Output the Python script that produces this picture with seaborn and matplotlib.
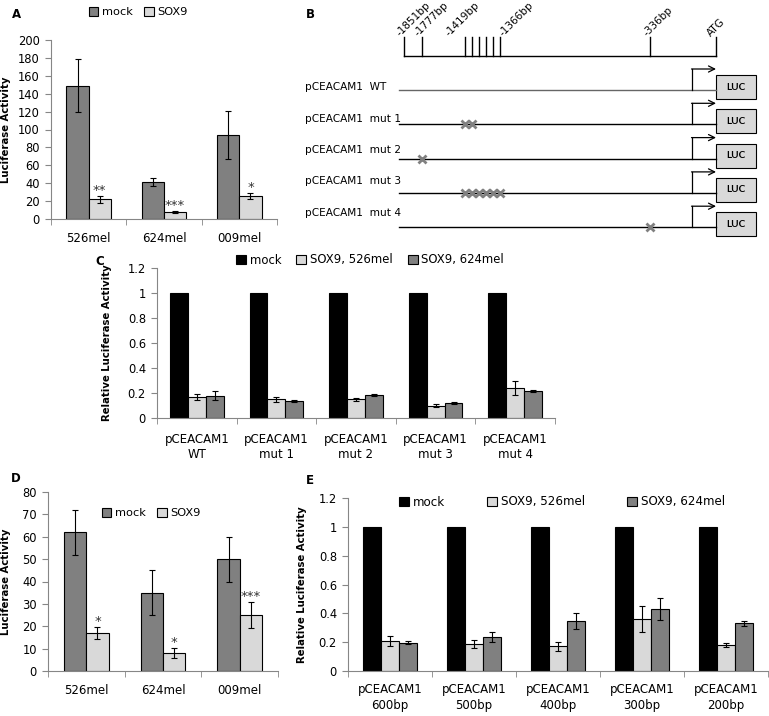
import numpy as np
import pandas as pd
import matplotlib
matplotlib.use('Agg')
import matplotlib.pyplot as plt
from matplotlib.patches import Rectangle
from matplotlib.ticker import FuncFormatter
import seaborn as sns

# ---------------- data ----------------
# A: luciferase activity, 3 melanoma lines
a_cells = ['526mel', '624mel', '009mel']
a_mock = [149, 41, 94]
a_mock_err = [30, 4.5, 27]
a_sox9 = [22, 8, 25.5]
a_sox9_err = [4, 1, 3.5]
a_stars = ['**', '***', '*']

# C: relative activity of mutant promoters
c_constructs = ['pCEACAM1\nWT', 'pCEACAM1\nmut 1', 'pCEACAM1\nmut 2',
                'pCEACAM1\nmut 3', 'pCEACAM1\nmut 4']
c_mock = [1, 1, 1, 1, 1]
c_526 = [0.17, 0.15, 0.15, 0.10, 0.24]
c_526_err = [0.025, 0.02, 0.012, 0.012, 0.055]
c_624 = [0.18, 0.135, 0.185, 0.12, 0.215]
c_624_err = [0.035, 0.008, 0.005, 0.006, 0.006]

# D: second luciferase experiment
d_cells = ['526mel', '624mel', '009mel']
d_mock = [62, 35, 50]
d_mock_err = [10, 10, 10]
d_sox9 = [17, 8, 25]
d_sox9_err = [2.8, 2.4, 6]
d_stars = ['*', '*', '***']

# E: deletion constructs
e_constructs = ['pCEACAM1\n600bp', 'pCEACAM1\n500bp', 'pCEACAM1\n400bp',
                'pCEACAM1\n300bp', 'pCEACAM1\n200bp']
e_mock = [1, 1, 1, 1, 1]
e_526 = [0.205, 0.185, 0.17, 0.36, 0.18]
e_526_err = [0.035, 0.028, 0.028, 0.09, 0.013]
e_624 = [0.195, 0.235, 0.345, 0.43, 0.33]
e_624_err = [0.01, 0.035, 0.055, 0.075, 0.02]

# B: promoter schematic (schematic x units, not to scale)
site_x = [404, 422, 465, 472, 479, 486, 493, 500, 650, 716]
site_labels = ['-1851bp', '-1777bp', '-1419bp', '-1366bp', '-336bp', 'ATG']
site_label_x = [400, 418, 449, 503, 647, 711]
b_constructs = ['pCEACAM1  WT', 'pCEACAM1  mut 1', 'pCEACAM1  mut 2',
                'pCEACAM1  mut 3', 'pCEACAM1  mut 4']
b_mutated = [[], [2, 3], [1], [2, 3, 4, 5, 6, 7], [8]]

MOCK_AD = '#808080'
LIGHT = '#d9d9d9'
DARK = '#808080'
AXCOL = '#868686'

plt.rcParams['font.family'] = ['DejaVu Sans']

W, H = 769, 716
fig = plt.figure(figsize=(W / 100, H / 100), dpi=100)


def px_axes(l, t, r, b):
    return fig.add_axes([l / W, 1 - b / H, (r - l) / W, (b - t) / H])


def bar_panel(ax, cats, groups, values, errs, colors, width, ylim, ystep,
              legend_xy, colspace, legend_fs, xpad=9, stars=None, ylabel='',
              ylab_x=-0.2):
    rows = []
    for g, vals, es in zip(groups, values, errs):
        for c, v, e in zip(cats, vals, es):
            rows.append((c, g, v, e))
    df = pd.DataFrame(rows, columns=['cat', 'group', 'value', 'err'])

    sns.barplot(data=df, x='cat', y='value', hue='group', order=cats,
                hue_order=groups, palette=colors, width=width, saturation=1,
                edgecolor='black', linewidth=0.8, errorbar=None, ax=ax)

    # error bars on top of the seaborn bars
    for cont, g in zip(ax.containers, groups):
        sub = df[df.group == g].set_index('cat').loc[cats]
        xs = [p.get_x() + p.get_width() / 2 for p in cont]
        hs = [p.get_height() for p in cont]
        es = sub['err'].values
        keep = es > 0
        if keep.any():
            ax.errorbar(np.array(xs)[keep], np.array(hs)[keep], yerr=es[keep],
                        fmt='none', ecolor='black', elinewidth=0.8,
                        capsize=2.5, capthick=0.8)
        if stars is not None and g == groups[-1]:
            for x, h, e, s in zip(xs, hs, es, stars):
                ax.annotate(s, (x, h + e), xytext=(0, -1),
                            textcoords='offset points', ha='center',
                            va='bottom', fontsize=9.5, color='#333333')

    handles, labels = ax.get_legend_handles_labels()
    if ax.get_legend() is not None:
        ax.get_legend().remove()
    fig.legend(handles, labels, loc='center',
               bbox_to_anchor=(legend_xy[0] / W, 1 - legend_xy[1] / H),
               ncol=len(groups), frameon=False, fontsize=legend_fs,
               handlelength=0.85, handleheight=0.85, handletextpad=0.3,
               columnspacing=colspace, borderpad=0, borderaxespad=0)

    ax.set_ylim(*ylim)
    ax.set_yticks(np.arange(ylim[0], ylim[1] + ystep / 2, ystep))
    ax.yaxis.set_major_formatter(FuncFormatter(lambda v, p: f'{v:g}'))
    ax.set_xlim(-0.5, len(cats) - 0.5)
    ax.set_xticks(np.arange(len(cats) + 1) - 0.5, minor=True)
    ax.tick_params(axis='x', which='major', length=0, pad=xpad, labelsize=8.5)
    ax.tick_params(axis='x', which='minor', length=4, color=AXCOL)
    ax.tick_params(axis='y', length=4, color=AXCOL, labelsize=8.3, pad=4)
    for sp in ['top', 'right']:
        ax.spines[sp].set_visible(False)
    for sp in ['left', 'bottom']:
        ax.spines[sp].set_color(AXCOL)
        ax.spines[sp].set_linewidth(0.8)
    ax.set_xlabel('')
    ax.set_ylabel(ylabel, fontsize=7.3, fontweight='bold')
    ax.yaxis.set_label_coords(ylab_x, 0.5)


# ---------------- A ----------------
ax_a = px_axes(51, 40, 277, 219)
bar_panel(ax_a, a_cells, ['mock', 'SOX9'], [a_mock, a_sox9],
          [a_mock_err, a_sox9_err], [MOCK_AD, LIGHT], 0.59, (0, 200), 20,
          (138, 12), 1.0, 8.2, xpad=9, stars=a_stars,
          ylabel='Luciferase Activity', ylab_x=(11 - 51) / 226)

# ---------------- C ----------------
ax_c = px_axes(157, 268, 555, 418)
bar_panel(ax_c, c_constructs, ['mock', 'SOX9, 526mel', 'SOX9, 624mel'],
          [c_mock, c_526, c_624], [[0] * 5, c_526_err, c_624_err],
          ['black', LIGHT, DARK], 0.675, (0, 1.2), 0.2, (370, 260), 1.3, 8.4,
          xpad=11, ylabel='Relative Luciferase Activity',
          ylab_x=(112 - 157) / 398)

# ---------------- D ----------------
ax_d = px_axes(48, 492, 278, 671)
bar_panel(ax_d, d_cells, ['mock', 'SOX9'], [d_mock, d_sox9],
          [d_mock_err, d_sox9_err], [MOCK_AD, LIGHT], 0.58, (0, 80), 10,
          (151, 513), 1.0, 8.2, xpad=9, stars=d_stars,
          ylabel='Luciferase Activity', ylab_x=(11 - 48) / 230)

# ---------------- E ----------------
ax_e = px_axes(348, 498, 768, 671)
bar_panel(ax_e, e_constructs, ['mock', 'SOX9, 526mel', 'SOX9, 624mel'],
          [e_mock, e_526, e_624], [[0] * 5, e_526_err, e_624_err],
          ['black', LIGHT, DARK], 0.65, (0, 1.2), 0.2, (562, 502), 3.5, 8.6,
          xpad=9, ylabel='Relative Luciferase Activity',
          ylab_x=(307 - 348) / 420)

# ---------------- B (schematic) ----------------
ax_b = px_axes(290, 0, 769, 250)
ax_b.set_xlim(290, 769)
ax_b.set_ylim(250, 0)
ax_b.axis('off')

ax_b.plot([site_x[0], site_x[-1]], [56, 56], color='black', lw=1)
for x in site_x:
    ax_b.plot([x, x], [37, 56], color='black', lw=1)
for lx, lab in zip(site_label_x, site_labels):
    ax_b.text(lx, 37, lab, rotation=45, rotation_mode='anchor', ha='left',
              va='baseline', fontsize=7.5)

for i, (name, muts) in enumerate(zip(b_constructs, b_mutated)):
    box_top = 75 + 34.3 * i
    line_y = box_top + 15
    ax_b.text(305, 87 + 31.5 * i, name, ha='left', va='center', fontsize=7.6)
    ax_b.plot([399, site_x[-1]], [line_y, line_y],
              color='#666666' if i == 0 else 'black', lw=1)
    ax_b.plot([692, 692], [line_y, box_top - 6], color='black', lw=0.9)
    ax_b.annotate('', xy=(716, box_top - 6), xytext=(691.5, box_top - 6),
                  arrowprops=dict(arrowstyle='->', lw=0.9, color='black',
                                  mutation_scale=11, shrinkA=0, shrinkB=0))
    ax_b.add_patch(Rectangle((716, box_top), 40, 24, facecolor=LIGHT,
                             edgecolor='black', lw=0.8))
    ax_b.text(736, box_top + 12, 'LUC', ha='center', va='center',
              fontsize=7.2, fontweight='bold', family=['Lato', 'DejaVu Sans'])
    if muts:
        ax_b.plot([site_x[j] for j in muts], [line_y] * len(muts), 'x',
                  color='#808080', ms=6, mew=2)

# panel letters
for letter, (x, y) in zip('ABCDE', [(17, 14), (310, 15), (100, 262),
                                     (16, 479), (310, 480)]):
    fig.text(x / W, 1 - y / H, letter, ha='center', va='center',
             fontsize=8.5, fontweight='bold')

fig.savefig('out.png', dpi=100)
